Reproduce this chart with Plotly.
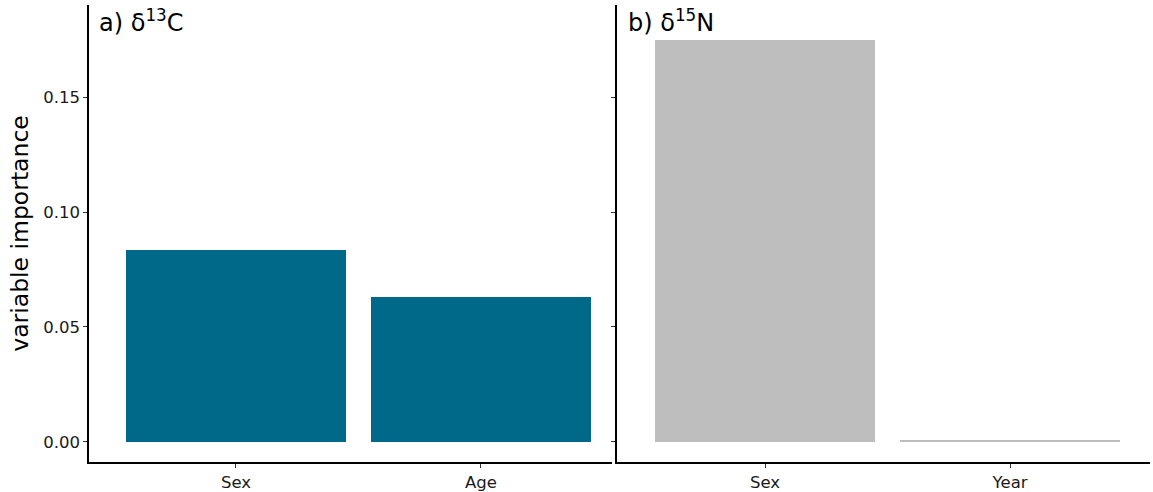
import plotly.graph_objects as go

# Data
cats_c = ["Sex", "Age"]
vals_c = [0.0835, 0.063]
cats_n = ["Sex", "Year"]
vals_n = [0.1748, 0.0007]
y_ticks = [0.0, 0.05, 0.10, 0.15]
y_tick_text = ["0.00", "0.05", "0.10", "0.15"]

W, H = 1153, 492
ml, mr, mt, mb = 89, 3, 5, 30
pw = W - ml - mr

font_fam = "DejaVu Sans, Liberation Sans, Arial, sans-serif"

fig = go.Figure()
fig.add_trace(go.Bar(x=[0, 1], y=vals_c, width=0.9, marker=dict(color="#006889", line=dict(width=0)),
                     xaxis="x", yaxis="y", showlegend=False))
fig.add_trace(go.Bar(x=[0, 1], y=vals_n, width=0.9, marker=dict(color="#BEBEBE", line=dict(width=0)),
                     xaxis="x2", yaxis="y2", showlegend=False))

yrange = [-0.0087, 0.19]
common_x = dict(showline=True, linecolor="black", linewidth=1.5, ticks="outside", ticklen=4,
                tickcolor="#333333", tickwidth=1, showgrid=False, zeroline=False, automargin=False,
                tickfont=dict(family=font_fam, size=16.5, color="#1a1a1a"), tickmode="array")
common_y = dict(showline=True, linecolor="black", linewidth=1.5, ticks="outside", ticklen=4,
                tickcolor="#333333", tickwidth=1, showgrid=False, zeroline=False, range=yrange,
                automargin=False, tickmode="array", tickvals=y_ticks, ticktext=y_tick_text,
                tickfont=dict(family=font_fam, size=16.5, color="#1a1a1a"))

d1 = [0, (612 - ml) / pw]
d2 = [(617 - ml) / pw, 1]

fig.update_layout(
    width=W, height=H,
    margin=dict(l=ml, r=mr, t=mt, b=mb),
    paper_bgcolor="white", plot_bgcolor="white",
    bargap=0,
    xaxis=dict(domain=d1, range=[-0.6, 1.535], tickvals=[0, 1], ticktext=cats_c, anchor="y", **common_x),
    xaxis2=dict(domain=d2, range=[-0.604, 1.571], tickvals=[0, 1], ticktext=cats_n, anchor="y2", **common_x),
    yaxis=dict(domain=[0, 1], anchor="x", title=dict(text="variable importance",
               font=dict(family=font_fam, size=23.5, color="black"), standoff=8), **common_y),
    yaxis2=dict(domain=[0, 1], anchor="x2", showticklabels=False, **common_y),
    annotations=[
        dict(text="a) δ<sup>13</sup>C", xref="paper", yref="paper", x=8 / pw, y=1.005,
             xanchor="left", yanchor="top", showarrow=False,
             font=dict(family=font_fam, size=24, color="black")),
        dict(text="b) δ<sup>15</sup>N", xref="paper", yref="paper", x=(626 - ml) / pw, y=1.005,
             xanchor="left", yanchor="top", showarrow=False,
             font=dict(family=font_fam, size=24, color="black")),
    ],
)

fig.write_html("out.html")
